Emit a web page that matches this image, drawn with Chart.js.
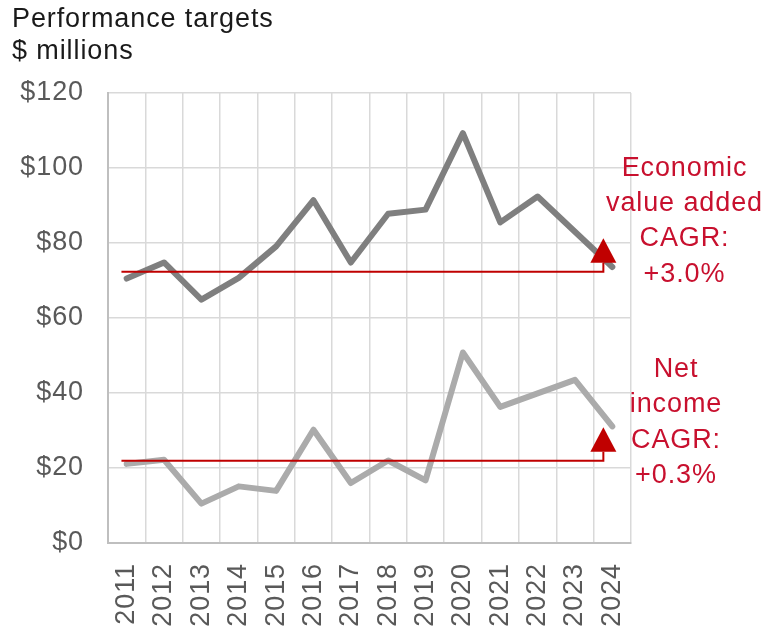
<!DOCTYPE html>
<html>
<head>
<meta charset="utf-8">
<title>Performance targets</title>
<script src="https://cdn.jsdelivr.net/npm/chart.js@4.4.1/dist/chart.umd.min.js"></script>
<style>
  html, body { margin: 0; padding: 0; background: #fff; }
  canvas { display: block; }
</style>
</head>
<body>
<canvas id="perfChart" width="764" height="629"></canvas>
<script>
// Data
const years = ["2011", "2012", "2013", "2014", "2015", "2016", "2017", "2018", "2019", "2020", "2021", "2022", "2023", "2024"];
const evaValues = [70.5, 74.8, 64.9, 70.7, 79.1, 91.4, 74.8, 87.8, 88.9, 109.3, 85.5, 92.4, 83.0, 73.6];
const netIncomeValues = [21.1, 22.2, 10.5, 15.1, 13.9, 30.2, 16.0, 22.0, 16.7, 50.8, 36.3, 39.9, 43.5, 31.1];
const yTickValues = [0, 20, 40, 60, 80, 100, 120];
const cagrBaselines = [72.3, 21.9];
const cagrLabels = [
  ["Economic", "value added", "CAGR:", "+3.0%"],
  ["Net", "income", "CAGR:", "+0.3%"]
];

const FONT = '"Liberation Sans", Arial, sans-serif';
const RED_TEXT = "#C8102E";
const RED_MARK = "#C00000";
const SPACING = "0.9px";

Chart.defaults.font.family = FONT;

// text in the reference is a touch wider than plain Arial
const spacingPlugin = {
  id: "spacing",
  beforeLayout(chart) { chart.ctx.letterSpacing = SPACING; },
  beforeDraw(chart) { chart.ctx.letterSpacing = SPACING; }
};

// red baseline + arrow for each CAGR, and the text on the right
const cagrPlugin = {
  id: "cagr",
  afterDatasetsDraw(chart) {
    const ctx = chart.ctx;
    const x = chart.scales.x;
    const y = chart.scales.y;
    const x1 = x.getPixelForValue(-0.14);
    const x2 = x.getPixelForValue(12.76);
    ctx.save();
    cagrBaselines.forEach(v => {
      const py = y.getPixelForValue(v);
      ctx.strokeStyle = RED_MARK;
      ctx.lineWidth = 2;
      ctx.beginPath();
      ctx.moveTo(x1, py);
      ctx.lineTo(x2, py);
      ctx.lineTo(x2, py - 9);
      ctx.stroke();
      ctx.fillStyle = RED_MARK;
      ctx.beginPath();
      ctx.moveTo(x2 - 13, py - 9);
      ctx.lineTo(x2 + 13, py - 9);
      ctx.lineTo(x2, py - 33.5);
      ctx.closePath();
      ctx.fill();
    });
    ctx.restore();
  },
  afterDraw(chart) {
    const ctx = chart.ctx;
    const area = chart.chartArea;
    const blocks = [
      { cx: area.right + 53.5, top: 176, step: 35.2 },
      { cx: area.right + 45, top: 377.3, step: 35.1 }
    ];
    ctx.save();
    ctx.letterSpacing = SPACING;
    ctx.font = "27px " + FONT;
    ctx.fillStyle = RED_TEXT;
    ctx.textAlign = "center";
    ctx.textBaseline = "alphabetic";
    blocks.forEach((b, i) => {
      cagrLabels[i].forEach((line, j) => {
        ctx.fillText(line, b.cx, b.top + j * b.step);
      });
    });
    ctx.restore();
  }
};

const ctx = document.getElementById("perfChart").getContext("2d");
new Chart(ctx, {
  type: "line",
  data: {
    labels: years,
    datasets: [
      {
        label: "Economic value added",
        data: evaValues,
        borderColor: "#7F7F7F",
        borderWidth: 6,
        pointRadius: 0,
        borderCapStyle: "round",
        borderJoinStyle: "round",
        tension: 0
      },
      {
        label: "Net income",
        data: netIncomeValues,
        borderColor: "#ABABAB",
        borderWidth: 6,
        pointRadius: 0,
        borderCapStyle: "round",
        borderJoinStyle: "round",
        tension: 0
      }
    ]
  },
  options: {
    responsive: false,
    animation: false,
    layout: { padding: { left: 12, right: 133, top: 0, bottom: 0 } },
    plugins: {
      legend: { display: false },
      tooltip: { enabled: false },
      title: {
        display: true,
        align: "start",
        text: ["Performance targets", "$ millions"],
        color: "#1a1a1a",
        font: { size: 27, lineHeight: 1.185, weight: "normal" },
        padding: { top: 4, bottom: 25 }
      }
    },
    scales: {
      x: {
        offset: true,
        grid: { offset: true, color: "#D9D9D9", lineWidth: 1.5, drawTicks: false },
        border: { color: "#BFBFBF", width: 2 },
        ticks: {
          color: "#595959",
          font: { size: 27 },
          minRotation: 90,
          maxRotation: 90,
          autoSkip: false,
          padding: 20
        },
        afterFit(scale) { scale.height = 86; }
      },
      y: {
        min: yTickValues[0],
        max: yTickValues[yTickValues.length - 1],
        afterBuildTicks(scale) { scale.ticks = yTickValues.map(v => ({ value: v })); },
        grid: { color: "#D9D9D9", lineWidth: 1.5, drawTicks: false },
        border: { color: "#BFBFBF", width: 2 },
        ticks: {
          color: "#595959",
          font: { size: 27 },
          padding: 24,
          callback: v => "$" + v
        },
        afterFit(scale) { scale.width = 96; }
      }
    }
  },
  plugins: [spacingPlugin, cagrPlugin]
});
</script>
</body>
</html>
